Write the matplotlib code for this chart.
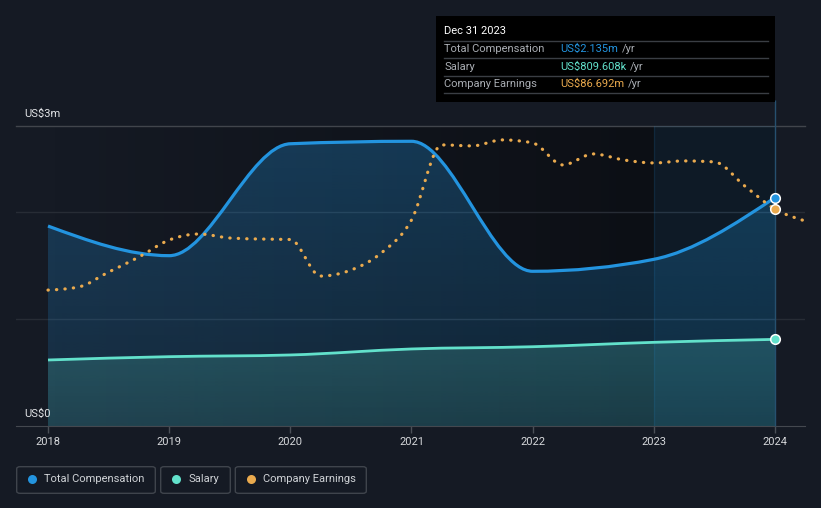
import numpy as np
import matplotlib
matplotlib.use("Agg")
import matplotlib.pyplot as plt
import matplotlib.transforms as mtransforms
from matplotlib.path import Path
from matplotlib.patches import PathPatch, Rectangle, FancyBboxPatch

# values (US$m)
YEARS = [2018, 2019, 2020, 2021, 2022, 2023, 2024]
TOTAL_COMP = [1.869, 1.592, 2.638, 2.661, 1.446, 1.558, 2.135]
SALARY = [0.617, 0.648, 0.664, 0.720, 0.741, 0.782, 0.8096]
EARN_X = [2018.0, 2018.25, 2018.5, 2018.75, 2019.0, 2019.25, 2019.5, 2019.75,
          2020.0, 2020.25, 2020.5, 2020.75, 2021.0, 2021.25, 2021.5, 2021.75,
          2022.0, 2022.25, 2022.5, 2022.75, 2023.0, 2023.25, 2023.5, 2023.75,
          2024.0, 2024.25]
EARNINGS = [54.3, 55.5, 61.5, 67.5, 74.3, 76.7, 75.1, 74.7,
            74.5, 59.9, 62.3, 69.1, 82.3, 112.3, 111.9, 114.3,
            113.1, 104.3, 108.7, 106.3, 105.1, 105.9, 105.5, 95.9,
            86.7, 81.9]
TIP_ROWS = [("Total Compensation", "US$2.135m"), ("Salary", "US$809.608k"),
            ("Company Earnings", "US$86.692m")]
LEGEND = ["Total Compensation", "Salary", "Company Earnings"]

BG = "#151a24"
BLUE, TEAL, ORANGE = "#2394df", "#62e1cb", "#eaaa4e"
YTOP, ETOP = 2.804, 119.85
W, H = 821, 508

plt.rcParams["font.family"] = ["Roboto", "DejaVu Sans"]


def fx(p):
    return p / W


def fy(p):
    return 1 - p / H


def monotone(xs, ys):
    """Bezier path like d3.curveMonotoneX."""
    x = np.asarray(xs, float)
    y = np.asarray(ys, float)
    n = len(x)
    h = np.diff(x)
    s = np.diff(y) / h
    t = np.zeros(n)
    for i in range(1, n - 1):
        p = (s[i - 1] * h[i] + s[i] * h[i - 1]) / (h[i - 1] + h[i])
        t[i] = (np.sign(s[i - 1]) + np.sign(s[i])) * min(abs(s[i - 1]), abs(s[i]), 0.5 * abs(p))
    t[0] = (3 * s[0] - t[1]) / 2
    t[-1] = (3 * s[-1] - t[-2]) / 2
    verts = [(x[0], y[0])]
    codes = [Path.MOVETO]
    for i in range(n - 1):
        dx = h[i] / 3
        verts += [(x[i] + dx, y[i] + dx * t[i]), (x[i + 1] - dx, y[i + 1] - dx * t[i + 1]),
                  (x[i + 1], y[i + 1])]
        codes += [Path.CURVE4] * 3
    return verts, codes


def gradient_fill(ax, verts, codes, rgb, a_top, a_bot, z):
    v = verts + [(verts[-1][0], 0), (verts[0][0], 0), (verts[0][0], 0)]
    c = codes + [Path.LINETO, Path.LINETO, Path.CLOSEPOLY]
    patch = PathPatch(Path(v, c), facecolor="none", edgecolor="none", transform=ax.transData)
    ax.add_patch(patch)
    g = np.zeros((100, 1, 4))
    g[..., :3] = matplotlib.colors.to_rgb(rgb)
    g[:, 0, 3] = np.linspace(a_top, a_bot, 100)
    im = ax.imshow(g, extent=[verts[0][0], verts[-1][0], 0, YTOP], origin="upper",
                   aspect="auto", zorder=z)
    im.set_clip_path(patch)


fig = plt.figure(figsize=(8.21, 5.08), dpi=100, facecolor=BG)
ax = fig.add_axes([fx(16), fy(426), fx(789), 300 / H])
ax.set_facecolor(BG)

# darkening towards the hovered point
shade = np.zeros((1, 100, 4))
shade[0, :, 3] = np.concatenate([np.linspace(0, 0.42, 84), np.full(16, 0.42)])
ax.imshow(shade, extent=[2018, 2024, 0, YTOP], aspect="auto", zorder=0)

for yv in (1, 2):
    ax.axhline(yv, color="#272c35", lw=1, zorder=1)
ax.axhline(YTOP, color="#41454c", lw=1, zorder=1, clip_on=False)

tv, tc = monotone(YEARS, TOTAL_COMP)
sv, sc = monotone(YEARS, SALARY)
gradient_fill(ax, tv, tc, BLUE, 0.30, 0.14, 2)
gradient_fill(ax, sv, sc, TEAL, 0.36, 0.14, 3)

ax.add_patch(Rectangle((2023, 0), 1, YTOP, facecolor=BLUE, alpha=0.09, edgecolor="none", zorder=4))
ax.vlines(2023, 0, YTOP, color=BLUE, alpha=0.12, lw=1, zorder=4)
ax.vlines(2024, 0, YTOP + 26 / 107, color="#26506f", lw=1, zorder=4, clip_on=False)

ax.add_patch(PathPatch(Path(sv, sc), facecolor="none", edgecolor=TEAL, lw=2.0, zorder=6))
ax.add_patch(PathPatch(Path(tv, tc), facecolor="none", edgecolor=BLUE, lw=2.3, zorder=7))

etrans = mtransforms.Affine2D().scale(1, YTOP / ETOP) + ax.transData
ev, ec = monotone(EARN_X, EARNINGS)
ax.add_patch(PathPatch(Path(ev, ec), facecolor="none", edgecolor=ORANGE, lw=2.3,
                       linestyle=(0, (0.1, 2.55)), capstyle="round", transform=etrans, zorder=8))

ax.scatter([YEARS[-1]], [TOTAL_COMP[-1]], s=48, color=BLUE, edgecolor="white", lw=1.1, zorder=10)
ax.scatter([YEARS[-1]], [SALARY[-1]], s=48, color=TEAL, edgecolor="white", lw=1.1, zorder=10)
ax.scatter([EARN_X[-2]], [EARNINGS[-2]], s=48, color=ORANGE, edgecolor="white", lw=1.1,
           zorder=9, transform=etrans)

ax.set_xlim(2018 - 32 / 121.17, 2024 + 30 / 121.17)
ax.set_ylim(0, YTOP)
for side in ("top", "right", "left"):
    ax.spines[side].set_visible(False)
ax.spines["bottom"].set_color("#44484f")
ax.set_xticks(YEARS, [str(y) for y in YEARS])
ax.set_yticks([])
ax.tick_params(axis="x", length=5, width=1, color="#4a4f57", labelcolor="#d6d8db",
               labelsize=8, pad=3)

fig.text(fx(24), fy(114), "US$3m", color="#e2e4e7", fontsize=8, va="center")
fig.text(fx(24), fy(414), "US$0", color="#e2e4e7", fontsize=8, va="center")

# tooltip
fig.patches.append(Rectangle((fx(436), fy(101.5)), fx(339), 85.5 / H, transform=fig.transFigure,
                             facecolor="#000000", edgecolor="none", zorder=20))
fig.text(fx(444), fy(31), "Dec 31 2023", color="white", fontsize=8, va="center", zorder=21)
for yl in (41, 58.3, 76, 93.3):
    fig.add_artist(plt.Line2D([fx(444), fx(768)], [fy(yl), fy(yl)], color="#3a3e44", lw=1,
                              zorder=21))
fig.canvas.draw()
rend = fig.canvas.get_renderer()
for (name, val), yc, col in zip(TIP_ROWS, (49.3, 66.5, 84), (BLUE, TEAL, ORANGE)):
    fig.text(fx(444), fy(yc), name, color="#a9adb3", fontsize=8, va="center", zorder=21)
    t = fig.text(fx(560), fy(yc), val, color=col, fontsize=8, va="center", zorder=21)
    bb = t.get_window_extent(rend)
    fig.text(bb.x1 / W + fx(4), fy(yc), "/yr", color="#a9adb3", fontsize=8, va="center",
             zorder=21)

# legend
boxes = [(16.7, 155.3), (160.7, 230.3), (235.3, 366.3)]
for (x0, x1), label, col in zip(boxes, LEGEND, (BLUE, TEAL, ORANGE)):
    fig.patches.append(FancyBboxPatch((fx(x0), fy(493.3)), fx(x1 - x0), 26.6 / H,
                                      boxstyle="round,pad=0,rounding_size=0.004",
                                      transform=fig.transFigure, facecolor="none",
                                      edgecolor="#3f444c", lw=1))
    fig.add_artist(plt.Line2D([fx(x0 + 15.3)], [fy(479.3)], marker="o", ms=6.5, color=col,
                              markeredgewidth=0))
    fig.text(fx(x0 + 27.6), fy(479.3), label, color="#cfd2d6", fontsize=8, va="center")

fig.savefig("out.png", dpi=100, facecolor=BG)
